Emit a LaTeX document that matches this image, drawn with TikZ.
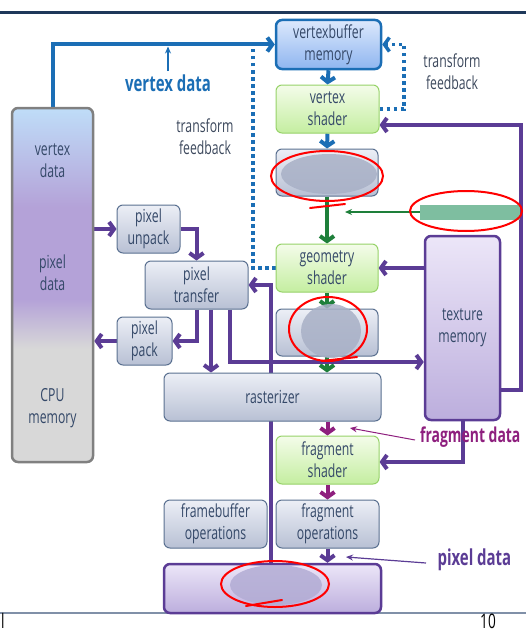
\documentclass[tikz,border=0pt]{standalone}
\usepackage{fontspec}
\setmainfont{Open Sans}[FakeStretch=0.68]
\usepackage{tikz}
\usetikzlibrary{arrows.meta, backgrounds}
\definecolor{navy}{RGB}{30,56,90}
\definecolor{rulegray}{RGB}{128,144,168}
\definecolor{ink}{RGB}{52,72,104}
\definecolor{note}{RGB}{60,72,92}
\definecolor{vblue}{RGB}{27,110,181}
\definecolor{vpurple}{RGB}{91,60,149}
\definecolor{vgreen}{RGB}{30,127,58}
\definecolor{vmagenta}{RGB}{142,31,126}
\definecolor{boxline}{RGB}{90,112,144}
\definecolor{boxtop}{RGB}{236,239,246}
\definecolor{boxbot}{RGB}{184,192,212}
\definecolor{shtop}{RGB}{244,252,234}
\definecolor{shbot}{RGB}{196,238,160}
\definecolor{shline}{RGB}{150,210,104}
\definecolor{vbtop}{RGB}{220,232,252}
\definecolor{vbbot}{RGB}{143,182,240}
\definecolor{pmtop}{RGB}{236,230,248}
\definecolor{pmbot}{RGB}{188,174,221}
\definecolor{memgray}{RGB}{216,216,216}
\definecolor{mempurple}{RGB}{180,162,216}
\definecolor{memblue}{RGB}{191,221,248}
\definecolor{blurgray}{RGB}{168,176,198}
\definecolor{blurgreen}{RGB}{126,190,160}
\definecolor{blurpurple}{RGB}{178,172,212}
\pgfdeclareverticalshading{cpumem}{100bp}{color(0bp)=(memgray); color(41bp)=(memgray);
  color(48bp)=(mempurple); color(61bp)=(mempurple); color(75bp)=(memblue); color(100bp)=(memblue)}
\newcommand{\tag}[1]{{\fontsize{22}{26}\selectfont\bfseries #1}}

\begin{document}
\begin{tikzpicture}[x=1pt, y=-1pt,
      every node/.style={font=\fontsize{18}{22}\selectfont, text=ink},
      box/.style={draw=boxline, line width=1pt, rounded corners=6pt, top color=boxtop,
                  bottom color=boxbot, align=center, inner sep=0pt,
                  minimum width=103pt, minimum height=48pt},
      shader/.style={box, draw=shline, top color=shtop, bottom color=shbot},
      vbox/.style={box, draw=vblue, line width=2.5pt, top color=vbtop, bottom color=vbbot},
      pbox/.style={box, draw=vpurple, line width=2.5pt, top color=pmtop, bottom color=pmbot},
      flow/.style={-{Straight Barb[length=5pt, width=14pt]}, line width=4pt},
      pointer/.style={-{Stealth[length=7pt, width=6pt]}, line width=1.2pt},
      feedback/.style={draw=vblue, line width=3.5pt, dash pattern=on 3.5pt off 3.5pt},
      scribble/.style={draw=red, line width=2pt, line cap=round},
      smudge/.style={fill=blurgray, opacity=0.85}]
    \useasboundingbox (0,0) rectangle (526,634);
    \draw[navy, line width=3pt] (0,13) -- (526,13);
    \draw[rulegray, line width=2pt] (0,613) -- (526,613);

    % memory
    \node[box, draw=gray, line width=2.5pt, shading=cpumem, minimum width=81pt,
          minimum height=354pt] (cpu) at (52.5,285) {};
    \node[align=center] (cpuv) at (52.5,161) {vertex\\data};
    \node[align=center] (cpup) at (52.5,273) {pixel\\data};
    \node[align=center] (cpum) at (52.5,408) {CPU\\memory};
    \node[vbox, minimum width=105pt, minimum height=49pt] (vb) at (328.5,44.5) {vertexbuffer\\memory};
    \node[pbox, minimum width=75pt, minimum height=184pt] (tm) at (462.5,328) {texture\\memory};
    \node[pbox, minimum width=217pt, minimum height=49pt] (fb) at (272.5,588.5) {};

    % pipeline
    \node[shader] (vs) at (327.5,109) {vertex\\shader};
    \node[box, minimum width=102pt, minimum height=47pt] (pa) at (327,172.5) {};
    \node[shader, minimum width=102pt] (gs) at (327,268) {geometry\\shader};
    \node[box, minimum width=102pt, minimum height=47pt] (cl) at (327,332.5) {};
    \node[box, minimum width=217pt] (ras) at (272.5,397) {rasterizer};
    \node[shader] (fs) at (327.5,460) {fragment\\shader};
    \node[box] (fbo) at (215.5,524) {framebuffer\\operations};
    \node[box] (fo) at (327.5,524) {fragment\\operations};

    % pixel path
    \node[box, minimum width=63pt] (pu) at (148.5,229) {pixel\\unpack};
    \node[box] (pt) at (196.5,285) {pixel\\transfer};
    \node[box, minimum width=55pt] (pp) at (144.5,341) {pixel\\pack};

    % labels
    \node[text=vblue] (vdl) at (168,83) {\tag{vertex data}};
    \node[anchor=west, text=vmagenta, inner sep=1pt] (fdl) at (419,437)
      {{\fontsize{20.5}{24}\selectfont\bfseries fragment data}};
    \node[anchor=west, text=vpurple] (pdl) at (434,560) {\tag{pixel data}};
    \node[align=center, text=note] (tfa) at (452,72) {transform\\feedback};
    \node[align=center, text=note] (tfb) at (205,137) {transform\\feedback};
    \node[fill=blurgreen, minimum width=100pt, minimum height=15pt, inner sep=0pt] (gl) at (470,212) {};
    \node[anchor=west, inner sep=0pt, font=\fontsize{20}{24}\selectfont, text=black] (pgl) at (1,621) {l};
    \node[font=\fontsize{20}{24}\selectfont, text=black] (pgn) at (488,621) {10};
    \coordinate (tfl) at (253,48);
    \coordinate (tfr) at (404,44.5);
    \coordinate (rt) at (521,390);
    \coordinate (gtip) at (345,212);
    \coordinate (ftip) at (350,428);
    \coordinate (ptip) at (346,557);

    \begin{scope}[on background layer]
      \draw[flow, vblue] (cpu.north) |- (vb.west);
      \draw[pointer, vblue, shorten >=2pt] (vdl.north) -- (vdl.north |- vb.west);
      \draw[flow, vblue] (vb.south) -- (vs.north);
      \draw[flow, vblue] (vs.south) -- (pa.north);
      \draw[feedback] (gs.west) -| (tfl);
      \draw[feedback, -{Straight Barb[length=5pt, width=14pt]}] (vs.east) -| (tfr) -- (vb.east);
      \draw[flow, vpurple] ([yshift=-62pt]tm.east) -- (rt) |- ([yshift=-16pt]vs.east);
      \draw[flow, vgreen] (pa.south) -- (gs.north);
      \draw[pointer, vgreen] (gl.west) -- (gtip);
      \draw[flow, vgreen] (gs.south) -- (cl.north);
      \draw[flow, vgreen] (cl.south) -- (cl.south |- ras.north);
      \draw[flow, vpurple] (tm.west |- gs.east) -- (gs.east);
      \draw[flow, vpurple] ([xshift=33.5pt]pt.south) |- ([yshift=-34pt]tm.west);
      \draw[flow, vpurple] ([xshift=-1.5pt]fb.north) |- (pt.east);
      \draw[flow, vpurple] ([xshift=14.5pt]pt.south) -- ([xshift=14.5pt]pt.south |- ras.north);
      \draw[flow, vpurple] (pt.south) |- (pp.east);
      \draw[flow, vpurple] (pp.west) -- (pp.west -| cpu.east);
      \draw[flow, vpurple] (pu.west -| cpu.east) -- (pu.west);
      \draw[flow, vpurple] (pu.east) -| (pt.north);
      \draw[flow, vmagenta] (ras.south -| fs.north) -- (fs.north);
      \draw[pointer, vmagenta, line width=1pt] ([xshift=-4pt, yshift=-3pt]fdl.west) -- (ftip);
      \draw[flow, vpurple] (tm.south) |- ([yshift=-2pt]fs.east);
      \draw[flow, vmagenta] (fs.south) -- (fo.north);
      \draw[flow, vpurple] (fo.south) -- (fo.south |- fb.north);
      \draw[pointer, vpurple] ([xshift=-8pt, yshift=-3pt]pdl.west) -- (ptip);
    \end{scope}

    % blurred parts
    \fill[smudge] (329,174) ellipse [x radius=48pt, y radius=20pt];
    \fill[smudge] (331,331) ellipse [x radius=30pt, y radius=27pt];
    \fill[smudge, fill=blurpurple] (276,585) ellipse [x radius=46pt, y radius=20pt];
    \draw[scribble] (327,176) ellipse [x radius=56pt, y radius=25pt];
    \draw[scribble] (310,208) -- (345,204);
    \draw[scribble] (466,211) ellipse [x radius=56pt, y radius=20pt];
    \draw[scribble] (328,329) ellipse [x radius=39pt, y radius=32pt];
    \draw[scribble] (322,361) -- (357,357);
    \draw[scribble] (275,584) ellipse [x radius=54pt, y radius=23pt];
    \draw[scribble] (246,606) -- (282,600);
  \end{tikzpicture}
\end{document}
